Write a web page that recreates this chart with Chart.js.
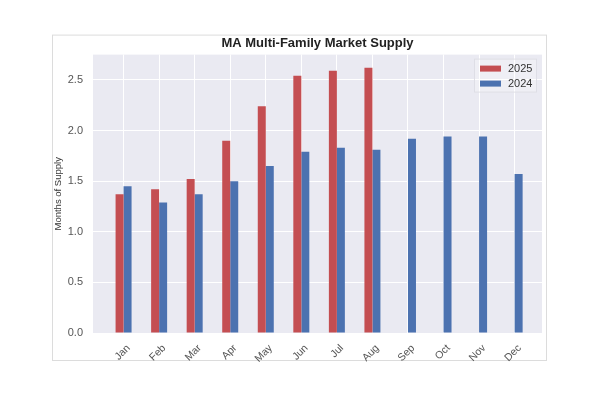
<!DOCTYPE html>
<html>
<head>
<meta charset="utf-8">
<script src="https://cdn.jsdelivr.net/npm/chart.js@4/dist/chart.umd.min.js"></script>
<style>
  html, body { margin: 0; padding: 0; background: #fff; }
  #wrap { width: 600px; height: 397px; }
</style>
</head>
<body>
<div id="wrap"><canvas id="supply-chart" width="600" height="397"></canvas></div>
<script>
// ===== DATA =====
const months = ['Jan', 'Feb', 'Mar', 'Apr', 'May', 'Jun', 'Jul', 'Aug', 'Sep', 'Oct', 'Nov', 'Dec'];
const supply2025 = [1.37, 1.42, 1.52, 1.90, 2.24, 2.54, 2.59, 2.62];
const supply2024 = [1.45, 1.29, 1.37, 1.50, 1.65, 1.79, 1.83, 1.81, 1.92, 1.94, 1.94, 1.57];
const yTicks = [0, 0.5, 1.0, 1.5, 2.0, 2.5];

const RED = '#C44E52';
const BLUE = '#4C72B0';
const FONT = "'Liberation Sans', Arial, sans-serif";

const toPoints = arr => arr.map((y, i) => ({ x: i, y }));

// seaborn-ish panel background + figure frame
const panelBg = {
    id: 'panelBg',
    beforeDraw(chart) {
        const { ctx, chartArea: a } = chart;
        ctx.save();
        ctx.strokeStyle = '#dcdcdc';
        ctx.lineWidth = 1;
        ctx.strokeRect(a.left - 40.5, a.top - 19.5, a.right - a.left + 45, a.bottom - a.top + 47);
        ctx.fillStyle = '#EAEAF2';
        ctx.fillRect(a.left, a.top, a.right - a.left, a.bottom - a.top);
        ctx.restore();
    }
};

// legend box in the upper right corner of the panel
const cornerLegend = {
    id: 'cornerLegend',
    afterDraw(chart) {
        const { ctx, chartArea: a } = chart;
        const x0 = a.right - 68, y0 = a.top + 4;
        ctx.save();
        ctx.fillStyle = 'rgba(255,255,255,0.25)';
        ctx.strokeStyle = 'rgba(220,220,228,0.9)';
        ctx.lineWidth = 1;
        ctx.fillRect(x0, y0, 63, 34);
        ctx.strokeRect(x0 + 0.5, y0 + 0.5, 62, 33);
        ctx.font = '11px ' + FONT;
        ctx.textBaseline = 'middle';
        chart.data.datasets.forEach((ds, i) => {
            const cy = y0 + 10 + i * 15;
            ctx.fillStyle = ds.backgroundColor;
            ctx.fillRect(x0 + 6, cy - 3, 21, 6);
            ctx.fillStyle = '#333';
            ctx.fillText(ds.label, x0 + 34, cy);
        });
        ctx.restore();
    }
};

const ctx = document.getElementById('supply-chart').getContext('2d');
new Chart(ctx, {
    type: 'bar',
    data: {
        datasets: [
            { label: '2025', data: toPoints(supply2025), backgroundColor: RED, categoryPercentage: 0.45, barPercentage: 1.0 },
            { label: '2024', data: toPoints(supply2024), backgroundColor: BLUE, categoryPercentage: 0.45, barPercentage: 1.0 }
        ]
    },
    options: {
        responsive: false,
        animation: false,
        layout: { padding: { left: 53, right: 58, top: 33, bottom: 34 } },
        plugins: {
            legend: { display: false },
            tooltip: { enabled: false },
            title: {
                display: true,
                fullSize: false,
                text: 'MA Multi-Family Market Supply',
                color: '#222',
                font: { family: FONT, size: 13, weight: 'bold' },
                padding: { top: 3, bottom: 3 }
            }
        },
        scales: {
            x: {
                type: 'linear',
                min: -0.86,
                max: 11.77,
                offset: false,
                afterBuildTicks: axis => { axis.ticks = months.map((_, i) => ({ value: i })); },
                afterFit: axis => { axis.height = 30; },
                grid: { color: '#ffffff', lineWidth: 1, drawTicks: false, offset: false },
                border: { display: false },
                ticks: {
                    color: '#555',
                    font: { family: FONT, size: 10.5 },
                    minRotation: 45,
                    maxRotation: 45,
                    padding: 9,
                    labelOffset: 5,
                    callback: v => months[v]
                }
            },
            y: {
                min: 0,
                max: 2.75,
                afterBuildTicks: axis => { axis.ticks = yTicks.map(v => ({ value: v })); },
                afterFit: axis => { axis.width = 40; },
                grid: { color: '#ffffff', lineWidth: 1, drawTicks: false },
                border: { display: false },
                title: {
                    display: true,
                    text: 'Months of Supply',
                    color: '#333',
                    font: { family: FONT, size: 9.5 },
                    padding: { top: 0, bottom: 0 }
                },
                ticks: {
                    color: '#555',
                    font: { family: FONT, size: 11 },
                    padding: 10,
                    callback: v => v.toFixed(1)
                }
            }
        }
    },
    plugins: [panelBg, cornerLegend]
});
</script>
</body>
</html>
